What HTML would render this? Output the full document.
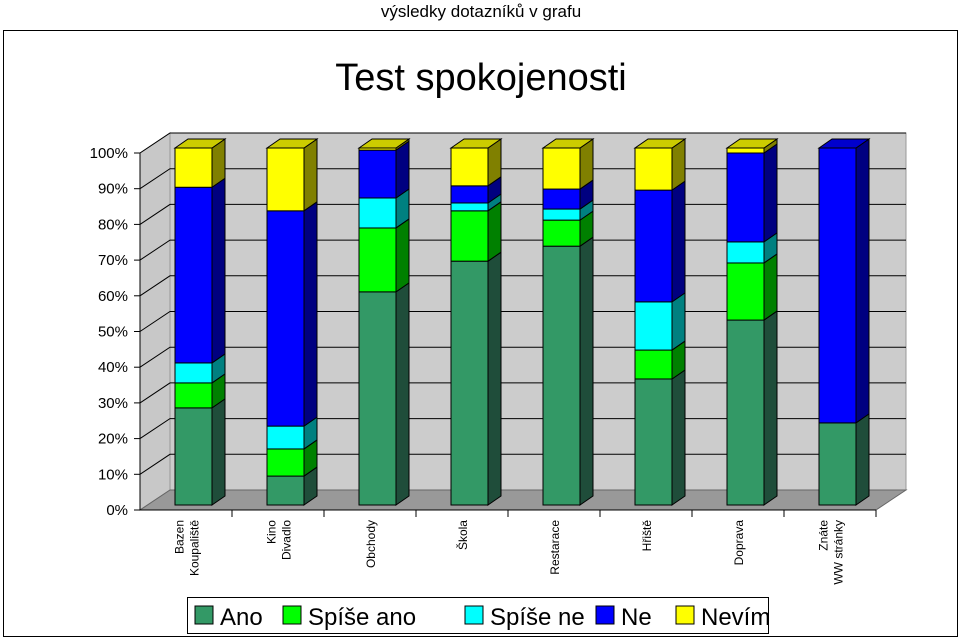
<!DOCTYPE html>
<html><head><meta charset="utf-8"><style>
body{margin:0;background:#fff;font-family:"Liberation Sans",sans-serif}
svg{display:block}
</style></head><body>
<svg width="960" height="640" xmlns="http://www.w3.org/2000/svg" font-family="Liberation Sans, sans-serif">
<text x="481" y="17" font-size="17" text-anchor="middle">výsledky dotazníků v grafu</text>
<rect x="3.5" y="30.5" width="954" height="606" fill="#fff" stroke="#000"/>
<text x="481" y="90" font-size="38" text-anchor="middle">Test spokojenosti</text>
<g id="plot"></g>
<g id="legend">
<rect x="187.5" y="597.5" width="581" height="36" fill="#fff" stroke="#000"/>
</g>
</svg>
<script>
const categories=[["Bazen","Koupaliště"],["Kino","Divadlo"],["Obchody"],["Škola"],["Restarace"],["Hřiště"],["Doprava"],["Znáte","WW stránky"]];
const seriesNames=["Ano","Spíše ano","Spíše ne","Ne","Nevím"];
const ano=[27.2,8.1,59.7,68.3,72.5,35.3,51.8,23];
const spiseAno=[7,7.6,17.9,14.1,7.3,8.1,16,0];
const spiseNe=[5.6,6.4,8.4,2.2,3.1,13.5,5.9,0];
const ne=[49.2,60.3,13.4,4.8,5.6,31.3,24.9,77];
const nevim=[11,17.6,0.6,10.6,11.5,11.8,1.4,0];
const tickLabels=["0%","10%","20%","30%","40%","50%","60%","70%","80%","90%","100%"];
const fronts=["#339966","#00ff00","#00ffff","#0000ff","#ffff00"];
const sides=["#1f4d3a","#008000","#008080","#000080","#808000"];
const tops=["#2a7a52","#00cc00","#00cccc","#0000cc","#cccc00"];
const NS="http://www.w3.org/2000/svg";
const plot=document.getElementById('plot');
const X0=140,Y0=510,H=357,CW=92,DX=30,DY=20,N=categories.length;
const yW=p=>Y0-p/100*H;
function el(t,a,parent){const e=document.createElementNS(NS,t);for(const k in a)e.setAttribute(k,a[k]);(parent||plot).appendChild(e);return e;}
// walls
let w=el('polygon',{points:`${X0},${Y0} ${X0+DX},${Y0-DY} ${X0+DX},${yW(100)-DY} ${X0},${yW(100)}`,fill:'#c8c8c8',stroke:'#888'});


w=el('rect',{x:X0+DX,y:yW(100)-DY,width:N*CW,height:H,fill:'#cccccc',stroke:'#999'});


w=el('polygon',{points:`${X0},${Y0} ${X0+N*CW},${Y0} ${X0+N*CW+DX},${Y0-DY} ${X0+DX},${Y0-DY}`,fill:'#999999',stroke:'#666'});


tickLabels.forEach((t,i)=>{
  const p=i*10,y=yW(p);
  if(i>0){
    const g=el('polyline',{points:`${X0},${y} ${X0+DX},${y-DY} ${X0+DX+N*CW},${y-DY}`,fill:'none',stroke:'#000','stroke-width':1});
    
    
  }
  el('line',{x1:X0-6,y1:y,x2:X0,y2:y,stroke:'#000'});
  const tx=el('text',{x:X0-12,y:y+5,'font-size':15,'text-anchor':'end'});
  tx.textContent=t;
  
  
});
el('line',{x1:X0,y1:yW(100),x2:X0,y2:Y0,stroke:'#000'});
el('line',{x1:X0,y1:Y0,x2:X0+N*CW,y2:Y0,stroke:'#000'});
const series=[ano,spiseAno,spiseNe,ne,nevim];
const BY=505,BW=37,SD=13,SH=9;
const yB=p=>BY-p/100*H;
for(let i=0;i<N;i++){
  const tk=el('line',{x1:X0+(i+1)*CW,y1:Y0,x2:X0+(i+1)*CW,y2:Y0+7,stroke:'#000'});
  const bx=X0+i*CW+35;
  let cum=0;
  const g=el('g',{});
  
  
  series.forEach((s,k)=>{
    const v=s[i];if(v<=0)return;
    const y1=yB(cum),y2=yB(cum+v);
    const f=el('rect',{x:bx,y:y2,width:BW,height:y1-y2,fill:fronts[k],stroke:'#000','stroke-width':1},g);
    
    
    el('polygon',{points:`${bx+BW},${y1} ${bx+BW+SD},${y1-SH} ${bx+BW+SD},${y2-SH} ${bx+BW},${y2}`,fill:sides[k],stroke:'#000','stroke-width':1},g);
    cum+=v;
  });
  const topIdx=[4,3,2,1,0].find(k=>series[k][i]>0);
  const yt=yB(cum);
  el('polygon',{points:`${bx},${yt} ${bx+SD},${yt-SH} ${bx+BW+SD},${yt-SH} ${bx+BW},${yt}`,fill:tops[topIdx],stroke:'#000','stroke-width':1},g);
  const lines=categories[i];
  const cx=X0+i*CW+46;
  lines.forEach((ln,j)=>{
    const x=cx+(j-(lines.length-1)/2)*15+5;
    const t=el('text',{x:x,y:520,'font-size':12,'text-anchor':'end',transform:`rotate(-90 ${x} 520)`});
    t.textContent=ln;
    
    
  });
}
// legend
const lg=document.getElementById('legend');
const lx=[195,283,465,596,676];
seriesNames.forEach((n,k)=>{
  const r=el('rect',{x:lx[k],y:606,width:18,height:18,fill:fronts[k],stroke:'#000'},lg);
  
  
  const t=el('text',{x:lx[k]+25,y:625,'font-size':24},lg);
  t.textContent=n;
  
  
});
</script>
</body></html>
